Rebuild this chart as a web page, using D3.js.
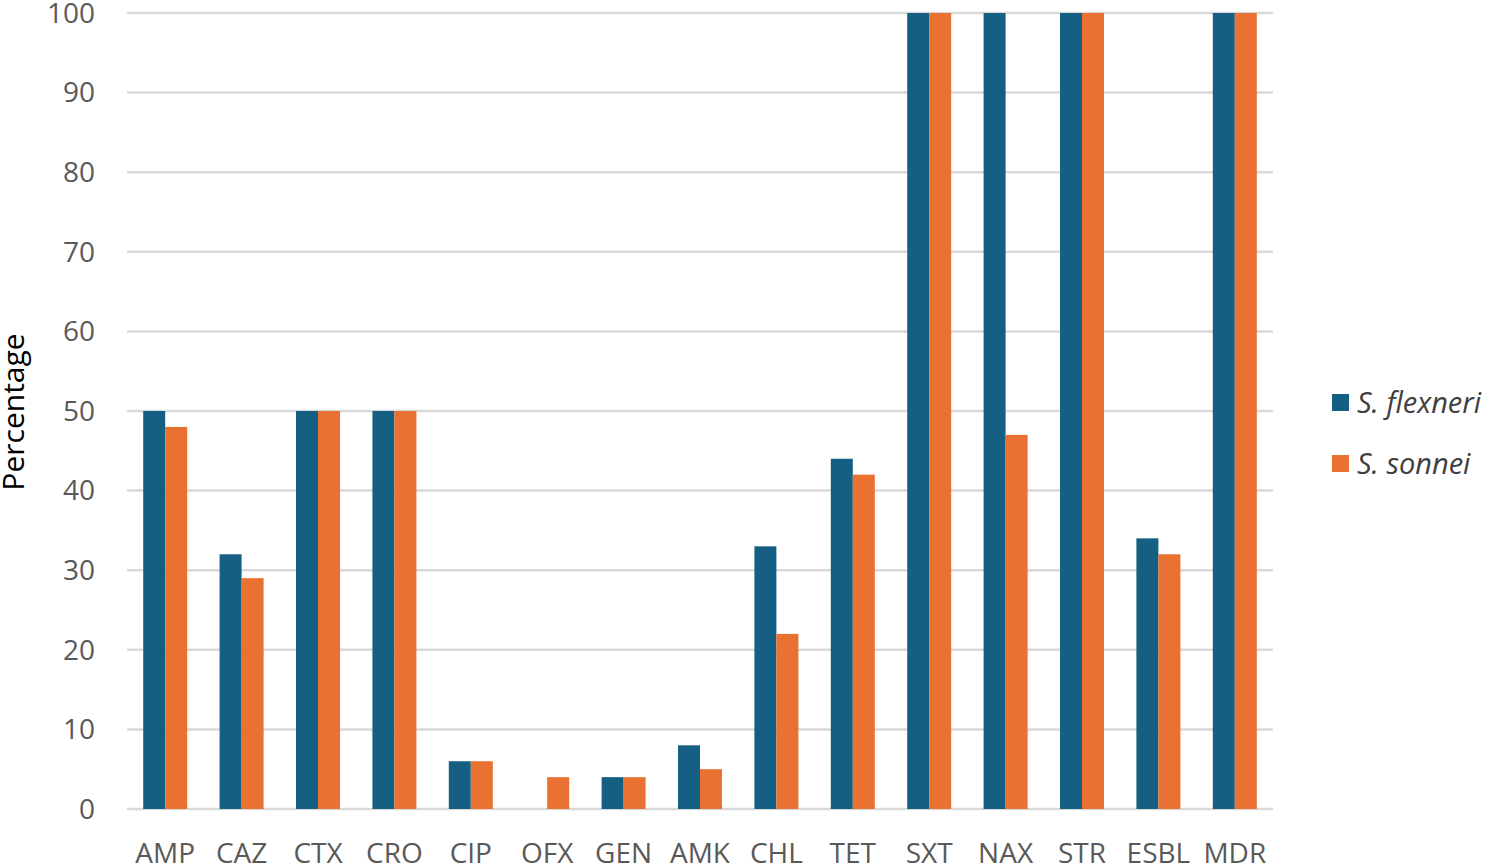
<!DOCTYPE html>
<meta charset="utf-8">
<head>
	<title>Shigella resistance</title>
	<script type="text/javascript" src="https://d3js.org/d3.v7.min.js"></script>
	<style>
		body { margin: 0; background: #fff; }
		text { font-family: "Open Sans", "Noto Sans", sans-serif; }
		.grid line { stroke: #d9d9d9; stroke-width: 2.5; }
	</style>
</head>
<body>
	<div id="chart"></div>
	<script>
		// data
		var drugs = ["AMP", "CAZ", "CTX", "CRO", "CIP", "OFX", "GEN", "AMK", "CHL", "TET", "SXT", "NAX", "STR", "ESBL", "MDR"];
		var flexneri = [50, 32, 50, 50, 6, 0, 4, 8, 33, 44, 100, 100, 100, 34, 100];
		var sonnei = [48, 29, 50, 50, 6, 4, 4, 5, 22, 42, 100, 47, 100, 32, 100];
		var seriesNames = ["S. flexneri", "S. sonnei"];
		var colors = ["#156082", "#E97132"];
		var yTicks = [0, 10, 20, 30, 40, 50, 60, 70, 80, 90, 100];

		var W = 1489, H = 864;
		var margin = {top: 13, left: 127, right: 216, bottom: 55};

		var svg = d3.select("#chart").append("svg")
			.attr("width", W)
			.attr("height", H);

		var x = d3.scaleBand().domain(drugs).range([margin.left, W - margin.right]);
		var y = d3.scaleLinear().domain([0, 100]).range([H - margin.bottom, margin.top]);
		var barW = 22;

		// gridlines
		svg.append("g").attr("class", "grid")
			.selectAll("line").data(yTicks).enter().append("line")
			.attr("x1", margin.left).attr("x2", W - margin.right)
			.attr("y1", function(d) { return y(d); })
			.attr("y2", function(d) { return y(d); });

		// y tick labels
		svg.append("g").selectAll("text").data(yTicks).enter().append("text")
			.attr("x", 95)
			.attr("y", function(d) { return y(d); })
			.attr("dy", "0.35em")
			.attr("text-anchor", "end")
			.attr("fill", "#595959")
			.style("font-size", "28px")
			.text(function(d) { return d; });

		// bars
		var rows = drugs.map(function(d, i) { return {drug: d, vals: [flexneri[i], sonnei[i]]}; });
		var grp = svg.append("g").selectAll("g").data(rows).enter().append("g");
		grp.selectAll("rect").data(function(d) {
				return d.vals.map(function(v, k) { return {drug: d.drug, v: v, k: k}; });
			})
			.enter().append("rect")
			.attr("x", function(d) { return x(d.drug) + x.bandwidth() / 2 - barW + d.k * barW; })
			.attr("y", function(d) { return y(d.v); })
			.attr("width", barW)
			.attr("height", function(d) { return y(0) - y(d.v); })
			.attr("fill", function(d) { return colors[d.k]; });

		// x labels
		svg.append("g").selectAll("text").data(drugs).enter().append("text")
			.attr("x", function(d) { return x(d) + x.bandwidth() / 2; })
			.attr("y", 863)
			.attr("text-anchor", "middle")
			.attr("fill", "#595959")
			.style("font-size", "28px")
			.text(function(d) { return d; });

		// y axis title
		svg.append("text")
			.attr("transform", "translate(24,412) rotate(-90)")
			.attr("text-anchor", "middle")
			.attr("fill", "#000")
			.style("font-size", "30px")
			.text("Percentage");

		// legend
		var leg = svg.append("g").selectAll("g").data(seriesNames).enter().append("g")
			.attr("transform", function(d, i) { return "translate(1332," + (394 + i * 61) + ")"; });
		leg.append("rect")
			.attr("width", 17).attr("height", 17)
			.attr("fill", function(d, i) { return colors[i]; });
		leg.append("text")
			.attr("x", 25).attr("y", 9)
			.attr("dy", "0.35em")
			.attr("fill", "#404040")
			.style("font-size", "29px")
			.style("font-style", "italic")
			.text(function(d) { return d; });
	</script>
</body>
</html>
